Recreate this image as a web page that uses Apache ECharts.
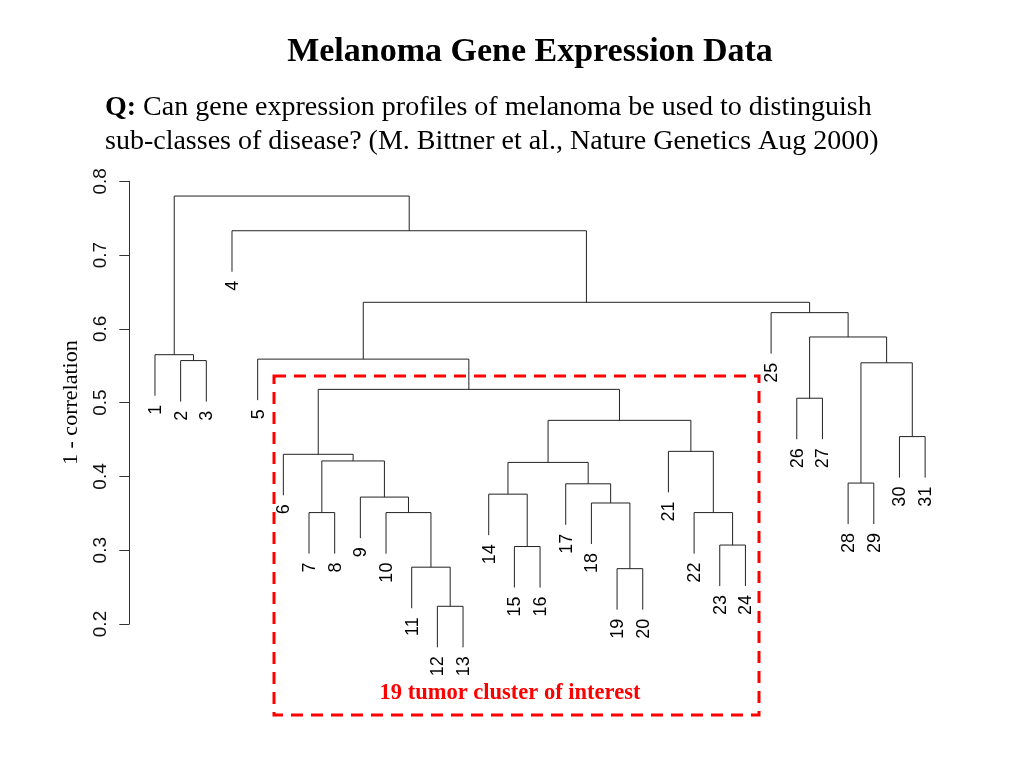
<!DOCTYPE html>
<html><head><meta charset="utf-8">
<script src="https://cdn.jsdelivr.net/npm/echarts/dist/echarts.min.js"></script>
<style>html,body{margin:0;padding:0;background:#fff}#c{width:1024px;height:768px}</style>
</head><body><div id="c"></div>
<script>
// Leaf labels in dendrogram order
const leafLabels = ['1','2','3','4','5','6','7','8','9','10','11','12','13','14','15','16','17','18','19','20','21','22','23','24','25','26','27','28','29','30','31'];
// hclust-style merge table: negative = leaf index, positive = earlier merge (1-based)
const mergeLeft  = [-12,-19,-11,-15,-23, -7,-10,-22,-18, -9,-14,-17,-28,  6, 11, -6,-21,-30, 15,-26, 16, 13, -2, -5, -1, 20,-25, 24, -4, 25];
const mergeRight = [-13,-20,  1,-16,-24, -8,  3,  5,  2,  7,  4,  9,-29, 10, 12, 14,  8,-31, 17,-27, 19, 18, -3, 21, 23, 22, 26, 27, 28, 29];
const mergeHeight= [0.224,0.275,0.277,0.305,0.307,0.351,0.351,0.351,0.364,0.372,0.376,0.390,0.391,0.421,0.419,0.430,0.434,0.454,0.476,0.506,0.518,0.554,0.557,0.559,0.565,0.589,0.622,0.636,0.733,0.780];
const yTicks = [0.2,0.3,0.4,0.5,0.6,0.7,0.8];
const hang = 0.0556;

const nodes = [], segs = [], leaves = [];
for (let i = 0; i < mergeHeight.length; i++) {
  const h = mergeHeight[i];
  const kids = [mergeLeft[i], mergeRight[i]].map(c => {
    if (c < 0) { const x = -c; leaves.push([x, h - hang, leafLabels[x - 1]]); return { x, y: h - hang }; }
    return { x: nodes[c - 1].x, y: nodes[c - 1].h };
  });
  segs.push([kids[0].x, h, kids[1].x, h]);
  segs.push([kids[0].x, h, kids[0].x, kids[0].y]);
  segs.push([kids[1].x, h, kids[1].x, kids[1].y]);
  nodes.push({ x: (kids[0].x + kids[1].x) / 2, h });
}

const chart = echarts.init(document.getElementById('c'), null, { renderer: 'canvas' });
chart.setOption({
  backgroundColor: '#fff',
  animation: false,
  grid: { left: 129.3, right: 73.2, top: 181.3, bottom: 144, containLabel: false, outerBoundsMode: 'none' },
  xAxis: { type: 'value', min: 0, max: leafLabels.length + 1, show: false },
  yAxis: {
    type: 'value', min: yTicks[0], max: yTicks[yTicks.length - 1], interval: 0.1,
    name: '1 - correlation', nameLocation: 'middle', nameGap: 47, nameRotate: 90,
    nameTextStyle: { fontFamily: 'Liberation Serif', fontSize: 22, color: '#000' },
    axisLine: { show: true, lineStyle: { color: '#333', width: 1 } },
    axisTick: { show: true, length: 10, lineStyle: { color: '#333' } },
    axisLabel: { rotate: 90, margin: 19, fontFamily: 'Liberation Sans', fontSize: 19, color: '#111',
      formatter: v => v.toFixed(1) },
    splitLine: { show: false }
  },
  series: [
    {
      type: 'custom', clip: false, silent: true, data: segs,
      encode: { x: [0, 2], y: [1, 3] },
      renderItem: (p, api) => {
        const a = api.coord([api.value(0), api.value(1)]);
        const b = api.coord([api.value(2), api.value(3)]);
        return { type: 'line', shape: { x1: a[0], y1: a[1], x2: b[0], y2: b[1] },
          style: { stroke: '#222', lineWidth: 1 } };
      }
    },
    {
      type: 'custom', clip: false, silent: true, data: leaves,
      encode: { x: 0, y: 1 },
      renderItem: (p, api) => {
        const c = api.coord([api.value(0), api.value(1)]);
        return { type: 'text', x: c[0] + 1, y: c[1] + 9, rotation: Math.PI / 2,
          style: { text: leaves[p.dataIndex][2], align: 'right', verticalAlign: 'middle',
            font: '18px "Liberation Sans"', fill: '#000' } };
      }
    }
  ],
  graphic: [
    { type: 'text', x: 530, y: 52, style: { text: 'Melanoma Gene Expression Data', align: 'center', verticalAlign: 'middle',
        font: 'bold 34px "Liberation Serif"', fill: '#000' } },
    { type: 'text', x: 105, y: 108, style: { text: '{b|Q:} Can gene expression profiles of melanoma be used to distinguish',
        verticalAlign: 'middle', font: '28px "Liberation Serif"', fill: '#000',
        rich: { b: { font: 'bold 28px "Liberation Serif"', fill: '#000' } } } },
    { type: 'text', x: 105, y: 142, style: { text: 'sub-classes of disease? (M. Bittner et al., Nature Genetics Aug 2000)',
        verticalAlign: 'middle', font: '28px "Liberation Serif"', fill: '#000' } },
    { type: 'rect', shape: { x: 274, y: 376, width: 485, height: 339 },
      style: { fill: 'none', stroke: '#f00', lineWidth: 3, lineDash: [12, 8] } },
    { type: 'text', x: 510, y: 693, style: { text: '19 tumor cluster of interest', align: 'center', verticalAlign: 'middle',
        font: 'bold 22.5px "Liberation Serif"', fill: '#f00' } }
  ]
});
</script></body></html>
